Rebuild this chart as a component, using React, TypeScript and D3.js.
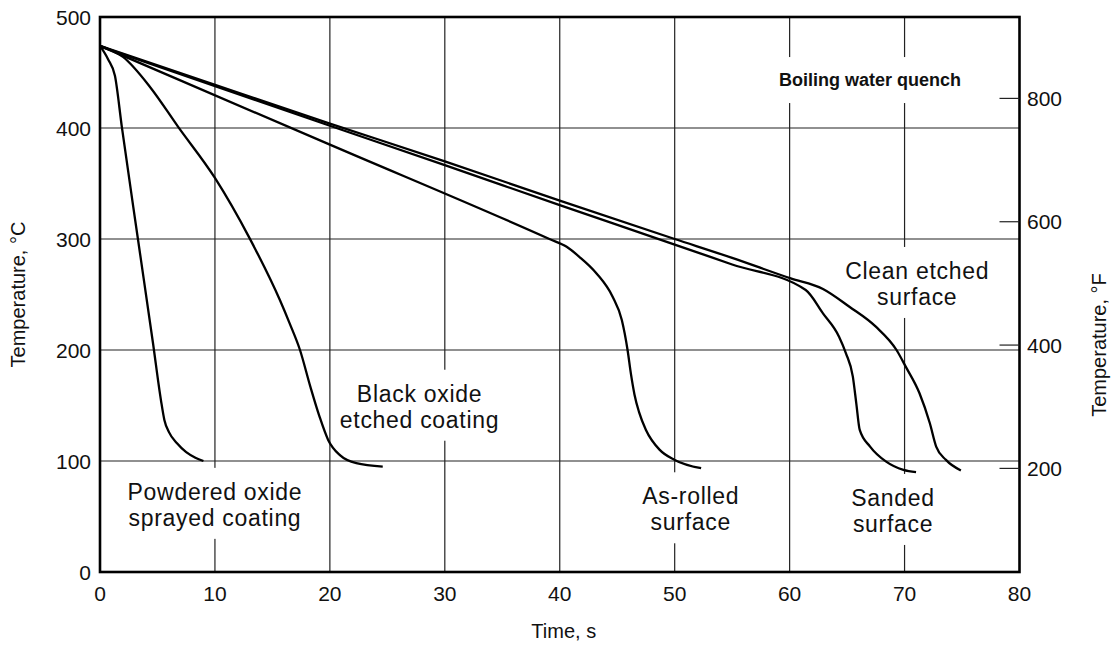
import React, { useEffect, useRef } from "react";
import * as d3 from "d3";

// ---- data ----
const xTicks = [0, 10, 20, 30, 40, 50, 60, 70, 80];
const yTicksC = [0, 100, 200, 300, 400, 500];
const yTicksF = [200, 400, 600, 800];

const powderedOxide: [number, number][] = [
  [0, 474], [0.7, 462], [1.3, 447], [1.9, 401], [3.3, 300], [4.6, 207],
  [5.3, 155], [5.6, 137], [6.0, 126], [6.7, 116], [7.5, 108], [8.3, 103], [9.0, 100],
];
const blackOxide: [number, number][] = [
  [0, 474], [2.0, 464], [4.35, 437], [6.8, 401], [10, 355], [13, 301], [15.65, 245],
  [16.5, 224], [17.4, 200], [18.3, 167], [19.1, 140], [19.85, 119], [20.9, 105],
  [22.3, 98], [24.6, 95],
];
const asRolled: [number, number][] = [
  [0, 474], [20, 385], [39.1, 300], [40.6, 293], [41.7, 284], [43.2, 269], [44.6, 248],
  [45.4, 227], [45.9, 200], [46.2, 178], [46.5, 160], [46.9, 144], [47.5, 128],
  [48.7, 110], [50, 101], [52.3, 93.5],
];
const sanded: [number, number][] = [
  [0, 473.5], [20, 402], [30, 366.5], [40, 330.5], [50, 295], [55, 277], [61.4, 254],
  [62.9, 233], [64.3, 212], [64.9, 197], [65.5, 176], [65.8, 152], [66.1, 128],
  [67, 113], [68.4, 99.4], [69.9, 92], [71, 90],
];
const cleanEtched: [number, number][] = [
  [0, 474], [20, 404], [30, 370], [40, 334.5], [50, 300], [55, 283], [60.1, 264.5],
  [62.9, 255], [65.2, 239], [67.5, 221], [69.3, 200], [70.1, 185], [71.3, 161],
  [72.2, 134], [72.75, 113], [73.6, 101], [74.9, 91.5],
];
const seriesList = [powderedOxide, blackOxide, asRolled, sanded, cleanEtched];

const labelLines = [
  ["Powdered oxide", "sprayed coating"],
  ["Black oxide", "etched coating"],
  ["As-rolled", "surface"],
  ["Sanded", "surface"],
  ["Clean etched", "surface"],
  ["Boiling water quench"],
];
// anchor (time, °C) of first baseline, centre
const labelAnchors: [number, number][] = [
  [10, 65], [27.8, 153.4], [51.4, 61], [69.0, 59.5], [71.1, 264], [67.0, 437.8],
];

const FONT = "'Liberation Sans', Arial, Helvetica, sans-serif";

export default function App() {
  const ref = useRef<SVGSVGElement | null>(null);

  useEffect(() => {
    const svg = d3.select(ref.current);
    svg.selectAll("*").remove();

    const x = d3.scaleLinear().domain([0, 80]).range([100, 1019.5]);
    const y = d3.scaleLinear().domain([0, 500]).range([572, 17]);
    const yF = (f: number) => y((f - 32) / 1.8);

    const g = svg.append("g");

    // gridlines
    g.selectAll("line.vg")
      .data(xTicks.slice(1, -1))
      .join("line")
      .attr("x1", (d) => x(d)).attr("x2", (d) => x(d))
      .attr("y1", y(0)).attr("y2", y(500))
      .attr("stroke", "#222").attr("stroke-width", 1.2);
    g.selectAll("line.hg")
      .data(yTicksC.slice(1, -1))
      .join("line")
      .attr("y1", (d) => y(d)).attr("y2", (d) => y(d))
      .attr("x1", x(0)).attr("x2", x(80))
      .attr("stroke", "#222").attr("stroke-width", 1.2);

    // labels with white backgrounds
    labelLines.forEach((lines, i) => {
      const [t, T] = labelAnchors[i];
      const bold = lines.length === 1;
      const lg = g.append("g");
      const rect = lg.append("rect").attr("fill", "white");
      const txt = lg.append("text")
        .attr("font-family", FONT)
        .attr("font-size", bold ? 18 : 23)
        .attr("font-weight", bold ? "bold" : "normal")
        .attr("letter-spacing", bold ? 0 : 0.7)
        .attr("text-anchor", "middle")
        .attr("fill", "#111");
      lines.forEach((s, k) => {
        txt.append("tspan").attr("x", x(t)).attr("y", y(T) + k * 26).text(s);
      });
      const bb = (txt.node() as SVGTextElement).getBBox();
      const top = y(T) - (bold ? 29 : 32);
      const bottom = y(T) + (lines.length - 1) * 26 + (bold ? 17 : 13);
      rect.attr("x", bb.x - 6).attr("width", bb.width + 12)
        .attr("y", top).attr("height", bottom - top);
    });

    // curves
    const line = d3.line<[number, number]>()
      .x((d) => x(d[0]))
      .y((d) => y(d[1]))
      .curve(d3.curveMonotoneX);
    g.selectAll("path.curve")
      .data(seriesList)
      .join("path")
      .attr("d", (d) => line(d) as string)
      .attr("fill", "none")
      .attr("stroke", "#000")
      .attr("stroke-width", 2.3)
      .attr("stroke-linejoin", "round");

    // frame
    g.append("rect")
      .attr("x", x(0)).attr("y", y(500))
      .attr("width", x(80) - x(0)).attr("height", y(0) - y(500))
      .attr("fill", "none").attr("stroke", "#000").attr("stroke-width", 2.6);

    // right axis ticks (°F)
    g.selectAll("line.rt")
      .data(yTicksF)
      .join("line")
      .attr("x1", x(80) - 20).attr("x2", x(80))
      .attr("y1", (d) => yF(d)).attr("y2", (d) => yF(d))
      .attr("stroke", "#222").attr("stroke-width", 1.2);

    const tickText = (sel: any) =>
      sel.attr("font-family", FONT).attr("font-size", 21).attr("fill", "#111");

    tickText(g.selectAll("text.xl").data(xTicks).join("text"))
      .attr("x", (d: number) => x(d)).attr("y", 601)
      .attr("text-anchor", "middle").text((d: number) => d);
    tickText(g.selectAll("text.yl").data(yTicksC).join("text"))
      .attr("x", 91).attr("y", (d: number) => y(d) + 7.5)
      .attr("text-anchor", "end").text((d: number) => d);
    tickText(g.selectAll("text.fl").data(yTicksF).join("text"))
      .attr("x", 1027).attr("y", (d: number) => yF(d) + 7.5)
      .attr("text-anchor", "start").text((d: number) => d);

    // axis titles
    const title = (s: string) =>
      g.append("text").attr("font-family", FONT).attr("font-size", 20)
        .attr("fill", "#111").attr("text-anchor", "middle").text(s);
    title("Time, s").attr("x", x(40) + 4).attr("y", 638);
    title("Temperature, °C").attr("transform", `translate(25,${(y(0) + y(500)) / 2}) rotate(-90)`);
    title("Temperature, °F").attr("transform", `translate(1106,345) rotate(-90)`);
  }, []);

  return (
    <svg
      ref={ref}
      width={1115}
      height={647}
      style={{ position: "absolute", left: 0, top: 0, background: "white" }}
    />
  );
}
